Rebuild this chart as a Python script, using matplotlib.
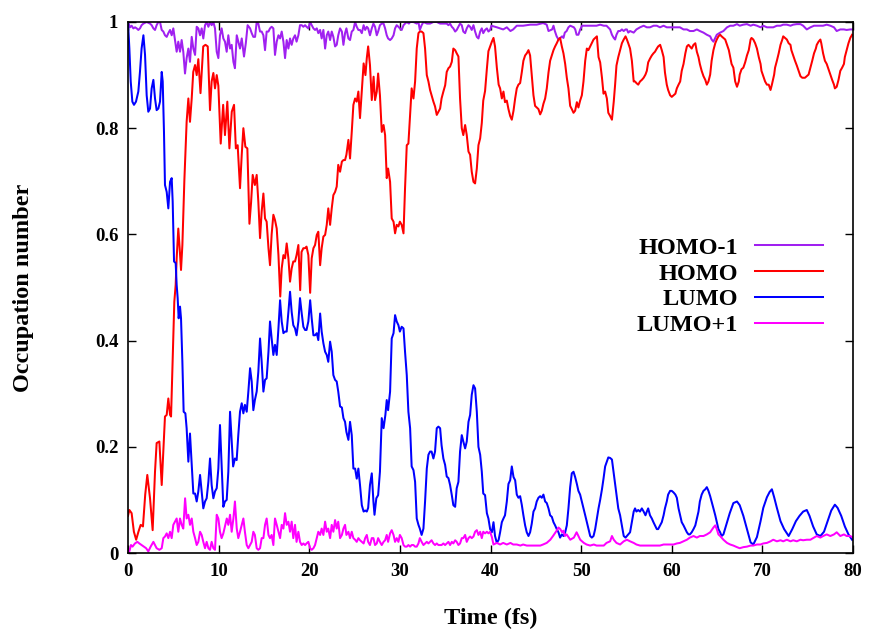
import matplotlib
matplotlib.use("Agg")
import matplotlib.pyplot as plt

# ---------------- data (time in fs, occupation number) ----------------
series_labels = ["HOMO-1", "HOMO", "LUMO", "LUMO+1"]
series_colors = ["#a020f0", "#ff0000", "#0000ff", "#ff00ff"]

homo1_pts = [(0,1.0),(0.22,0.99),(0.4,0.993),(0.59,0.988),(0.78,0.99),(0.96,0.988),(1.14,0.985),(1.32,0.988),(1.5,0.994),(1.7,0.997),(2.06,1.0),(2.43,0.997),(2.61,0.994),(2.8,0.988),(2.98,0.985),(3.16,0.994),(3.35,1.0),(3.53,1.0),(3.72,0.985),(3.9,0.982),(4.08,0.975),(4.27,0.972),(4.45,0.979),(4.64,0.985),(4.82,0.975),(5.0,0.988),(5.19,0.966),(5.37,0.944),(5.55,0.963),(5.74,0.944),(5.92,0.966),(6.1,0.944),(6.29,0.903),(6.47,0.932),(6.66,0.95),(6.84,0.925),(7.03,0.972),(7.21,0.95),(7.4,0.938),(7.58,0.991),(7.76,0.988),(7.95,0.975),(8.13,0.988),(8.31,0.969),(8.5,0.994),(8.68,1.0),(8.87,0.991),(9.05,1.0),(9.23,0.994),(9.42,1.0),(9.6,0.988),(9.79,0.944),(9.97,0.932),(10.15,0.975),(10.33,0.988),(10.52,0.969),(10.7,0.963),(10.89,0.944),(11.07,0.975),(11.26,0.95),(11.44,0.957),(11.63,0.925),(11.8,0.913),(12.0,0.975),(12.17,0.963),(12.36,0.95),(12.55,0.969),(12.8,0.935),(13.0,0.96),(13.2,0.994),(13.47,0.988),(13.65,0.979),(13.83,0.972),(14.02,0.972),(14.2,1.0),(14.38,0.997),(14.57,0.982),(14.75,0.982),(14.94,0.975),(15.12,0.947),(15.3,0.982),(15.5,0.982),(15.67,0.988),(15.85,0.991),(16.04,0.988),(16.22,0.938),(16.41,0.963),(16.6,0.975),(16.78,0.969),(16.96,0.982),(17.15,0.963),(17.33,0.932),(17.51,0.966),(17.7,0.95),(17.88,0.969),(18.06,0.957),(18.24,0.969),(18.43,0.975),(18.6,0.963),(18.8,0.975),(18.98,0.994),(19.17,0.994),(19.35,0.991),(19.54,0.994),(19.7,0.991),(19.9,0.988),(20.1,1.0),(20.27,0.994),(20.46,0.988),(20.64,0.985),(20.83,0.988),(21.0,0.979),(21.2,0.985),(21.37,0.969),(21.56,0.985),(21.75,0.95),(21.93,0.975),(22.1,0.982),(22.3,0.966),(22.48,0.982),(22.66,0.972),(22.85,0.954),(23.03,0.957),(23.2,0.975),(23.4,0.988),(23.6,0.982),(23.77,0.957),(23.95,0.979),(24.1,0.988),(24.32,0.969),(24.5,0.966),(24.69,0.982),(24.87,0.985),(25.06,1.0),(25.24,0.991),(25.42,0.985),(25.6,0.985),(25.8,0.979),(26.0,0.994),(26.17,0.985),(26.35,0.991),(26.5,0.988),(26.7,0.975),(26.9,0.988),(27.08,0.997),(27.26,0.991),(27.45,0.975),(27.6,0.982),(27.8,0.994),(28.0,0.997),(28.2,0.997),(28.37,0.988),(28.55,0.975),(28.7,0.969),(28.92,0.966),(29.1,0.969),(29.3,0.975),(29.47,0.988),(29.65,0.994),(29.84,0.991),(30.0,0.988),(30.2,0.985),(30.4,0.994),(30.57,0.997),(30.76,1.0),(31.0,0.997),(31.13,1.0),(31.5,1.0),(31.86,0.997),(32.05,1.0),(32.2,0.985),(32.4,0.994),(32.6,1.0),(33.0,0.997),(33.33,0.997),(33.7,1.0),(34.07,1.0),(34.44,0.997),(34.8,0.997),(35.17,0.997),(35.36,0.994),(35.54,0.997),(35.73,0.991),(35.9,0.988),(36.1,0.982),(36.27,0.985),(36.46,0.991),(36.64,0.997),(36.83,0.994),(37.0,0.982),(37.2,0.979),(37.38,0.988),(37.57,0.994),(37.75,0.991),(37.93,0.985),(38.12,0.994),(38.3,0.982),(38.49,0.972),(38.67,0.969),(38.86,0.982),(39.04,0.988),(39.2,0.979),(39.4,0.985),(39.6,0.988),(39.77,0.982),(39.96,0.985),(40.1,0.993),(40.7,0.99),(41.4,0.986),(41.8,0.99),(42.2,0.983),(42.5,0.986),(42.9,0.993),(43.6,0.993),(44.4,0.995),(45.1,0.995),(45.8,0.998),(46.2,0.995),(46.4,0.983),(46.8,0.986),(46.95,0.993),(47.1,0.983),(47.3,0.973),(47.5,0.967),(47.7,0.97),(47.9,0.973),(48.05,0.97),(48.2,0.98),(48.4,0.983),(48.6,0.99),(48.8,0.993),(49.2,0.99),(49.35,0.986),(49.5,0.976),(49.7,0.976),(49.9,0.986),(50.1,0.993),(50.3,0.993),(51.0,0.993),(51.7,0.993),(52.1,0.995),(52.5,0.993),(52.8,0.993),(53.2,0.986),(53.4,0.976),(53.6,0.97),(53.75,0.967),(53.9,0.976),(54.1,0.983),(54.3,0.983),(54.5,0.986),(54.7,0.983),(54.9,0.986),(55.05,0.986),(55.2,0.98),(55.4,0.983),(55.8,0.98),(56.1,0.986),(56.5,0.99),(56.9,0.993),(57.25,0.99),(57.6,0.99),(58.0,0.993),(58.35,0.993),(58.7,0.99),(59.1,0.993),(59.45,0.99),(59.8,0.99),(60.2,0.99),(60.56,0.99),(60.9,0.99),(61.3,0.986),(61.67,0.986),(62.0,0.983),(62.4,0.983),(62.77,0.986),(63.1,0.983),(63.5,0.98),(63.87,0.976),(64.24,0.973),(64.4,0.967),(64.6,0.963),(64.8,0.97),(64.97,0.976),(65.34,0.98),(65.7,0.983),(66.1,0.99),(66.45,0.993),(66.8,0.993),(67.2,0.996),(67.5,0.993),(67.9,0.995),(68.3,0.996),(68.7,0.993),(69.0,0.995),(69.4,0.993),(69.8,0.99),(70.1,0.993),(70.5,0.99),(70.9,0.99),(71.2,0.99),(71.6,0.993),(72.0,0.993),(72.3,0.995),(72.7,0.995),(73.1,0.993),(73.4,0.995),(73.8,0.996),(74.2,0.996),(74.5,0.993),(74.9,0.986),(75.3,0.99),(75.7,0.993),(76.0,0.993),(76.4,0.993),(76.7,0.993),(77.1,0.995),(77.5,0.993),(77.9,0.99),(78.2,0.983),(78.6,0.986),(79.0,0.986),(79.3,0.985),(79.7,0.986),(80.0,0.986)]

homo_pts = [(0,0.07),(0.15,0.081),(0.4,0.075),(0.65,0.04),(0.9,0.025),(1.15,0.04),(1.4,0.053),(1.65,0.05),(1.9,0.11),(2.13,0.147),(2.43,0.103),(2.72,0.043),(2.98,0.153),(3.16,0.207),(3.46,0.21),(3.72,0.128),(4.08,0.257),(4.27,0.26),(4.45,0.291),(4.64,0.26),(4.75,0.257),(4.93,0.367),(5.11,0.473),(5.26,0.505),(5.37,0.555),(5.55,0.611),(5.7,0.574),(5.85,0.533),(6.0,0.58),(6.22,0.702),(6.47,0.812),(6.66,0.856),(6.84,0.812),(7.03,0.856),(7.2,0.906),(7.4,0.919),(7.58,0.9),(7.76,0.93),(8.0,0.866),(8.3,0.954),(8.55,0.957),(8.8,0.954),(9.05,0.834),(9.23,0.888),(9.42,0.904),(9.6,0.875),(9.79,0.9),(9.97,0.88),(10.23,0.771),(10.5,0.844),(10.7,0.787),(10.96,0.85),(11.19,0.762),(11.45,0.831),(11.7,0.844),(11.9,0.762),(12.1,0.768),(12.36,0.687),(12.55,0.75),(12.73,0.8),(12.95,0.765),(13.17,0.762),(13.4,0.62),(13.58,0.66),(13.76,0.712),(14.0,0.693),(14.2,0.712),(14.38,0.662),(14.57,0.593),(14.75,0.643),(14.94,0.677),(15.12,0.63),(15.3,0.624),(15.5,0.574),(15.67,0.542),(15.85,0.6),(16.04,0.637),(16.22,0.627),(16.41,0.611),(16.6,0.561),(16.8,0.483),(16.96,0.536),(17.15,0.561),(17.33,0.555),(17.51,0.583),(17.7,0.555),(17.88,0.511),(18.06,0.536),(18.24,0.549),(18.43,0.549),(18.6,0.561),(18.8,0.58),(19.0,0.495),(19.15,0.567),(19.35,0.574),(19.54,0.574),(19.7,0.577),(19.9,0.561),(20.1,0.49),(20.27,0.555),(20.46,0.574),(20.64,0.58),(20.83,0.599),(21.0,0.605),(21.2,0.542),(21.37,0.574),(21.56,0.596),(21.75,0.599),(21.93,0.618),(22.1,0.649),(22.3,0.618),(22.48,0.649),(22.66,0.674),(22.85,0.68),(23.03,0.69),(23.2,0.731),(23.4,0.718),(23.6,0.737),(23.77,0.74),(23.95,0.74),(24.1,0.75),(24.32,0.778),(24.5,0.743),(24.69,0.793),(24.87,0.844),(25.06,0.856),(25.24,0.85),(25.42,0.869),(25.6,0.819),(25.8,0.869),(26.0,0.922),(26.2,0.9),(26.35,0.932),(26.5,0.954),(26.7,0.919),(26.9,0.853),(27.1,0.897),(27.26,0.853),(27.45,0.869),(27.6,0.903),(27.8,0.862),(28.0,0.793),(28.2,0.806),(28.37,0.787),(28.55,0.706),(28.7,0.724),(28.92,0.699),(29.1,0.63),(29.3,0.624),(29.47,0.602),(29.65,0.618),(29.84,0.615),(30.0,0.624),(30.2,0.618),(30.4,0.602),(30.57,0.687),(30.76,0.768),(30.94,0.771),(31.13,0.825),(31.3,0.875),(31.5,0.856),(31.68,0.888),(31.86,0.95),(32.05,0.979),(32.2,0.982),(32.4,0.982),(32.6,0.979),(32.78,0.95),(32.97,0.9),(33.15,0.888),(33.33,0.872),(33.5,0.862),(33.7,0.85),(33.88,0.841),(34.07,0.825),(34.25,0.831),(34.44,0.837),(34.6,0.856),(34.8,0.869),(35.0,0.881),(35.17,0.906),(35.36,0.913),(35.54,0.916),(35.73,0.925),(35.9,0.95),(36.1,0.947),(36.27,0.941),(36.46,0.935),(36.64,0.856),(36.83,0.8),(37.0,0.787),(37.2,0.806),(37.38,0.787),(37.57,0.756),(37.75,0.75),(37.93,0.718),(38.12,0.699),(38.3,0.696),(38.49,0.724),(38.67,0.768),(38.86,0.781),(39.04,0.81),(39.2,0.852),(39.4,0.87),(39.6,0.912),(39.77,0.945),(39.96,0.954),(40.15,0.963),(40.33,0.97),(40.5,0.954),(40.7,0.914),(40.9,0.882),(41.06,0.875),(41.25,0.856),(41.43,0.869),(41.6,0.849),(41.8,0.852),(41.98,0.836),(42.17,0.823),(42.35,0.816),(42.54,0.833),(42.72,0.856),(42.9,0.875),(43.08,0.882),(43.27,0.885),(43.45,0.905),(43.63,0.927),(43.82,0.937),(44.0,0.941),(44.19,0.947),(44.37,0.937),(44.55,0.901),(44.74,0.862),(44.92,0.842),(45.1,0.839),(45.29,0.836),(45.48,0.826),(45.66,0.833),(45.84,0.846),(46.03,0.856),(46.21,0.875),(46.4,0.905),(46.58,0.927),(46.77,0.937),(46.95,0.947),(47.13,0.954),(47.31,0.96),(47.5,0.967),(47.68,0.97),(47.87,0.954),(48.05,0.941),(48.24,0.921),(48.42,0.895),(48.6,0.875),(48.79,0.842),(48.97,0.836),(49.16,0.829),(49.34,0.833),(49.53,0.849),(49.7,0.839),(49.89,0.852),(50.08,0.862),(50.26,0.888),(50.45,0.927),(50.63,0.95),(50.8,0.947),(51.0,0.954),(51.18,0.96),(51.37,0.967),(51.55,0.97),(51.74,0.973),(51.92,0.934),(52.1,0.924),(52.3,0.895),(52.47,0.865),(52.65,0.869),(52.84,0.856),(53.0,0.829),(53.2,0.823),(53.4,0.816),(53.6,0.85),(53.75,0.882),(53.9,0.918),(54.1,0.934),(54.3,0.947),(54.5,0.96),(54.7,0.967),(54.9,0.973),(55.05,0.967),(55.2,0.96),(55.4,0.95),(55.6,0.927),(55.8,0.888),(55.95,0.888),(56.1,0.885),(56.3,0.882),(56.5,0.888),(56.7,0.891),(56.9,0.895),(57.1,0.901),(57.25,0.908),(57.4,0.924),(57.6,0.931),(57.8,0.937),(57.98,0.941),(58.15,0.944),(58.35,0.95),(58.5,0.954),(58.72,0.957),(58.9,0.947),(59.1,0.934),(59.25,0.905),(59.45,0.882),(59.6,0.872),(59.82,0.862),(60.0,0.859),(60.2,0.862),(60.4,0.865),(60.56,0.875),(60.75,0.882),(60.93,0.888),(61.1,0.908),(61.3,0.921),(61.5,0.941),(61.67,0.954),(61.85,0.957),(62.0,0.954),(62.2,0.95),(62.4,0.957),(62.6,0.96),(62.77,0.944),(62.95,0.934),(63.1,0.921),(63.3,0.908),(63.5,0.898),(63.7,0.891),(63.87,0.882),(64.05,0.888),(64.24,0.901),(64.4,0.927),(64.6,0.947),(64.8,0.96),(64.97,0.967),(65.15,0.973),(65.34,0.976),(65.5,0.973),(65.7,0.97),(65.9,0.967),(66.1,0.957),(66.3,0.947),(66.45,0.934),(66.6,0.921),(66.8,0.914),(67.0,0.888),(67.2,0.878),(67.4,0.888),(67.5,0.901),(67.7,0.911),(67.9,0.914),(68.1,0.924),(68.3,0.937),(68.5,0.947),(68.7,0.967),(68.8,0.97),(69.0,0.967),(69.2,0.96),(69.4,0.95),(69.6,0.934),(69.8,0.921),(69.9,0.908),(70.1,0.898),(70.3,0.888),(70.5,0.882),(70.7,0.882),(70.9,0.872),(71.05,0.882),(71.3,0.901),(71.4,0.914),(71.6,0.927),(71.8,0.941),(72.0,0.957),(72.2,0.967),(72.3,0.973),(72.5,0.97),(72.7,0.967),(72.9,0.96),(73.1,0.957),(73.2,0.947),(73.4,0.937),(73.6,0.927),(73.8,0.918),(74.0,0.908),(74.2,0.898),(74.4,0.895),(74.7,0.895),(74.9,0.898),(75.1,0.901),(75.3,0.914),(75.5,0.927),(75.7,0.941),(75.9,0.95),(76.0,0.957),(76.2,0.963),(76.4,0.967),(76.5,0.96),(76.7,0.941),(76.9,0.927),(77.1,0.921),(77.3,0.911),(77.5,0.901),(77.7,0.891),(77.9,0.882),(78.0,0.875),(78.2,0.878),(78.4,0.891),(78.6,0.908),(78.8,0.914),(79.0,0.921),(79.1,0.934),(79.3,0.947),(79.5,0.96),(79.7,0.97),(79.9,0.976)]

lumo_pts = [(0,1.0),(0.15,0.95),(0.3,0.888),(0.48,0.85),(0.66,0.844),(0.88,0.85),(1.14,0.869),(1.32,0.906),(1.5,0.95),(1.7,0.975),(1.88,0.938),(2.06,0.862),(2.24,0.831),(2.43,0.837),(2.61,0.875),(2.8,0.891),(2.98,0.856),(3.16,0.834),(3.35,0.837),(3.53,0.85),(3.72,0.906),(3.83,0.888),(3.97,0.793),(4.08,0.693),(4.27,0.68),(4.45,0.649),(4.64,0.699),(4.82,0.706),(4.93,0.662),(5.08,0.549),(5.26,0.546),(5.37,0.505),(5.48,0.48),(5.59,0.442),(5.74,0.464),(5.85,0.442),(6.0,0.36),(6.14,0.266),(6.33,0.263),(6.47,0.235),(6.66,0.172),(6.84,0.225),(7.03,0.166),(7.21,0.112),(7.4,0.112),(7.58,0.097),(7.76,0.116),(7.95,0.147),(8.13,0.116),(8.31,0.084),(8.5,0.097),(8.68,0.103),(8.87,0.134),(9.05,0.178),(9.23,0.128),(9.42,0.103),(9.6,0.116),(9.79,0.122),(9.97,0.159),(10.15,0.241),(10.33,0.166),(10.52,0.087),(10.7,0.097),(10.89,0.1),(11.07,0.153),(11.26,0.266),(11.44,0.21),(11.6,0.163),(11.8,0.178),(11.99,0.175),(12.17,0.222),(12.36,0.266),(12.55,0.282),(12.73,0.263),(12.9,0.279),(13.1,0.266),(13.28,0.304),(13.47,0.348),(13.65,0.323),(13.83,0.269),(14.0,0.288),(14.2,0.304),(14.38,0.341),(14.57,0.404),(14.75,0.36),(14.94,0.304),(15.12,0.326),(15.3,0.329),(15.5,0.379),(15.67,0.436),(15.85,0.404),(16.04,0.373),(16.22,0.392),(16.41,0.373),(16.6,0.423),(16.78,0.476),(16.96,0.436),(17.15,0.414),(17.33,0.417),(17.51,0.417),(17.7,0.454),(17.88,0.492),(18.06,0.454),(18.24,0.429),(18.43,0.423),(18.6,0.41),(18.8,0.436),(18.98,0.48),(19.17,0.451),(19.35,0.426),(19.54,0.42),(19.7,0.42),(19.9,0.436),(20.1,0.476),(20.27,0.442),(20.46,0.41),(20.64,0.41),(20.83,0.414),(21.0,0.401),(21.2,0.451),(21.37,0.417),(21.56,0.395),(21.75,0.379),(21.93,0.373),(22.1,0.36),(22.3,0.398),(22.48,0.379),(22.66,0.335),(22.85,0.326),(23.03,0.323),(23.2,0.304),(23.4,0.276),(23.6,0.274),(23.77,0.254),(23.95,0.247),(24.1,0.228),(24.32,0.213),(24.5,0.247),(24.69,0.222),(24.87,0.159),(25.06,0.159),(25.24,0.14),(25.42,0.159),(25.6,0.128),(25.8,0.09),(26.0,0.078),(26.17,0.08),(26.35,0.078),(26.5,0.085),(26.7,0.128),(26.9,0.15),(27.08,0.097),(27.2,0.072),(27.4,0.103),(27.6,0.109),(27.8,0.153),(28.0,0.254),(28.2,0.235),(28.4,0.26),(28.55,0.288),(28.7,0.269),(28.92,0.304),(29.1,0.404),(29.3,0.414),(29.47,0.448),(29.65,0.436),(29.84,0.429),(30.0,0.417),(30.2,0.426),(30.4,0.423),(30.57,0.379),(30.76,0.335),(30.94,0.266),(31.13,0.235),(31.3,0.163),(31.5,0.156),(31.68,0.134),(31.86,0.065),(32.05,0.053),(32.2,0.046),(32.4,0.034),(32.6,0.046),(32.78,0.097),(32.97,0.159),(33.15,0.185),(33.33,0.191),(33.5,0.191),(33.7,0.178),(33.88,0.191),(34.07,0.235),(34.25,0.238),(34.44,0.235),(34.6,0.203),(34.8,0.178),(34.99,0.166),(35.17,0.144),(35.36,0.141),(35.54,0.128),(35.73,0.109),(35.9,0.09),(36.1,0.087),(36.27,0.122),(36.46,0.134),(36.64,0.191),(36.83,0.222),(37.0,0.21),(37.2,0.197),(37.38,0.21),(37.57,0.247),(37.75,0.26),(37.93,0.298),(38.12,0.316),(38.3,0.31),(38.49,0.266),(38.67,0.2),(38.86,0.185),(39.04,0.153),(39.2,0.112),(39.4,0.109),(39.6,0.075),(39.77,0.065),(39.96,0.045),(40.15,0.039),(40.33,0.058),(40.5,0.032),(40.7,0.019),(40.9,0.025),(41.06,0.039),(41.25,0.058),(41.43,0.065),(41.6,0.071),(41.8,0.097),(41.98,0.13),(42.17,0.137),(42.35,0.163),(42.54,0.143),(42.72,0.137),(42.9,0.11),(43.08,0.104),(43.27,0.107),(43.45,0.091),(43.63,0.071),(43.82,0.052),(44.0,0.039),(44.19,0.032),(44.37,0.039),(44.55,0.055),(44.74,0.078),(44.92,0.084),(45.1,0.097),(45.29,0.104),(45.48,0.107),(45.66,0.104),(45.84,0.11),(46.03,0.097),(46.21,0.094),(46.4,0.084),(46.58,0.071),(46.77,0.068),(46.95,0.058),(47.13,0.052),(47.31,0.045),(47.5,0.039),(47.68,0.029),(47.87,0.035),(48.05,0.032),(48.24,0.039),(48.42,0.052),(48.6,0.084),(48.79,0.124),(48.97,0.15),(49.16,0.153),(49.34,0.143),(49.53,0.13),(49.7,0.117),(49.89,0.11),(50.08,0.097),(50.26,0.084),(50.45,0.071),(50.63,0.058),(50.8,0.045),(51.0,0.032),(51.18,0.029),(51.37,0.032),(51.55,0.045),(51.74,0.065),(51.92,0.084),(52.1,0.1),(52.3,0.12),(52.47,0.14),(52.65,0.163),(52.84,0.172),(53.0,0.18),(53.2,0.179),(53.4,0.176),(53.6,0.15),(53.75,0.13),(53.9,0.11),(54.1,0.084),(54.3,0.071),(54.5,0.052),(54.7,0.032),(54.9,0.029),(55.05,0.032),(55.2,0.035),(55.4,0.039),(55.6,0.058),(55.8,0.078),(55.95,0.084),(56.1,0.078),(56.3,0.081),(56.5,0.078),(56.7,0.084),(56.9,0.078),(57.1,0.071),(57.25,0.078),(57.4,0.084),(57.6,0.071),(57.8,0.065),(57.98,0.058),(58.15,0.052),(58.35,0.045),(58.5,0.045),(58.72,0.052),(58.9,0.058),(59.1,0.071),(59.25,0.084),(59.45,0.097),(59.6,0.11),(59.82,0.117),(60.0,0.117),(60.2,0.114),(60.4,0.11),(60.56,0.104),(60.75,0.084),(60.93,0.071),(61.1,0.058),(61.3,0.052),(61.5,0.045),(61.67,0.039),(61.85,0.035),(62.0,0.035),(62.2,0.039),(62.4,0.045),(62.6,0.052),(62.77,0.065),(62.95,0.078),(63.1,0.097),(63.3,0.11),(63.5,0.117),(63.7,0.12),(63.87,0.124),(64.05,0.117),(64.24,0.107),(64.4,0.097),(64.6,0.084),(64.8,0.071),(64.97,0.058),(65.15,0.045),(65.34,0.039),(65.5,0.032),(65.7,0.035),(66.1,0.058),(66.4,0.075),(66.8,0.094),(67.2,0.097),(67.5,0.09),(67.9,0.07),(68.3,0.045),(68.7,0.02),(69.0,0.016),(69.4,0.03),(69.8,0.06),(70.1,0.085),(70.5,0.105),(70.8,0.115),(71.05,0.12),(71.3,0.105),(71.6,0.085),(72.0,0.06),(72.4,0.045),(72.9,0.032),(73.3,0.045),(73.7,0.06),(74.1,0.07),(74.5,0.078),(74.9,0.081),(75.2,0.07),(75.6,0.05),(76.0,0.035),(76.4,0.032),(76.8,0.04),(77.2,0.06),(77.6,0.08),(78.0,0.091),(78.3,0.085),(78.7,0.07),(79.1,0.05),(79.5,0.035),(79.9,0.025)]

lumo1_pts = [(0,0.0),(0.15,0.003),(0.33,0.015),(0.5,0.012),(0.77,0.018),(1.03,0.021),(1.25,0.018),(1.5,0.015),(1.77,0.012),(2.0,0.009),(2.24,0.003),(2.5,0.012),(2.8,0.021),(2.98,0.015),(3.16,0.009),(3.46,0.006),(3.72,0.009),(3.9,0.028),(4.08,0.031),(4.27,0.037),(4.45,0.028),(4.64,0.04),(4.82,0.028),(5.0,0.053),(5.19,0.059),(5.37,0.065),(5.55,0.04),(5.74,0.065),(5.92,0.053),(6.1,0.046),(6.3,0.103),(6.47,0.065),(6.66,0.072),(6.84,0.053),(7.03,0.065),(7.21,0.04),(7.4,0.028),(7.58,0.015),(7.76,0.021),(7.95,0.04),(8.13,0.034),(8.31,0.021),(8.5,0.009),(8.68,0.021),(8.87,0.009),(9.05,0.006),(9.23,0.021),(9.42,0.009),(9.6,0.006),(9.79,0.072),(9.97,0.065),(10.15,0.04),(10.33,0.028),(10.52,0.037),(10.7,0.05),(10.9,0.065),(11.07,0.053),(11.26,0.072),(11.44,0.04),(11.63,0.065),(11.8,0.097),(12.0,0.046),(12.17,0.028),(12.36,0.04),(12.55,0.053),(12.73,0.065),(12.9,0.04),(13.1,0.015),(13.28,0.009),(13.47,0.015),(13.65,0.021),(13.83,0.04),(14.0,0.034),(14.2,0.009),(14.38,0.006),(14.57,0.009),(14.75,0.028),(14.94,0.028),(15.12,0.053),(15.3,0.065),(15.5,0.034),(15.67,0.028),(15.85,0.034),(16.04,0.015),(16.22,0.065),(16.41,0.053),(16.6,0.04),(16.78,0.028),(16.96,0.053),(17.15,0.046),(17.33,0.075),(17.51,0.053),(17.7,0.059),(17.88,0.04),(18.06,0.059),(18.24,0.028),(18.43,0.053),(18.6,0.021),(18.8,0.04),(18.98,0.021),(19.17,0.015),(19.35,0.018),(19.54,0.015),(19.7,0.018),(19.9,0.021),(20.1,0.009),(20.27,0.006),(20.46,0.009),(20.64,0.015),(20.83,0.028),(21.0,0.04),(21.2,0.034),(21.37,0.046),(21.56,0.034),(21.75,0.059),(21.93,0.04),(22.1,0.046),(22.3,0.028),(22.48,0.053),(22.66,0.04),(22.85,0.062),(23.03,0.046),(23.2,0.059),(23.4,0.028),(23.6,0.034),(23.77,0.046),(23.95,0.053),(24.1,0.034),(24.32,0.04),(24.5,0.028),(24.69,0.04),(24.87,0.028),(25.06,0.025),(25.24,0.021),(25.42,0.028),(25.6,0.024),(25.8,0.021),(26.0,0.018),(26.17,0.028),(26.35,0.034),(26.5,0.021),(26.7,0.015),(26.9,0.028),(27.08,0.028),(27.26,0.015),(27.45,0.018),(27.6,0.028),(27.8,0.021),(28.0,0.015),(28.2,0.021),(28.37,0.024),(28.55,0.034),(28.7,0.021),(28.92,0.037),(29.1,0.043),(29.3,0.034),(29.47,0.021),(29.65,0.028),(29.84,0.021),(30.0,0.034),(30.2,0.028),(30.4,0.015),(30.57,0.012),(30.76,0.012),(30.94,0.015),(31.13,0.012),(31.3,0.015),(31.5,0.015),(31.68,0.012),(31.86,0.012),(32.05,0.018),(32.2,0.028),(32.4,0.021),(32.6,0.015),(32.78,0.018),(32.97,0.021),(33.15,0.018),(33.33,0.021),(33.5,0.024),(33.7,0.018),(33.88,0.015),(34.07,0.018),(34.25,0.015),(34.44,0.015),(34.6,0.015),(34.8,0.018),(34.99,0.015),(35.17,0.018),(35.36,0.021),(35.54,0.015),(35.73,0.021),(35.9,0.018),(36.1,0.024),(36.27,0.021),(36.46,0.015),(36.64,0.018),(36.83,0.028),(37.0,0.028),(37.2,0.034),(37.38,0.021),(37.57,0.028),(37.75,0.031),(37.93,0.028),(38.12,0.031),(38.3,0.04),(38.49,0.043),(38.67,0.034),(38.86,0.04),(39.04,0.028),(39.2,0.04),(39.4,0.037),(39.6,0.04),(39.77,0.037),(39.96,0.04),(40.15,0.03),(40.33,0.016),(40.7,0.019),(41.06,0.016),(41.4,0.019),(41.8,0.016),(42.2,0.019),(42.5,0.016),(42.9,0.016),(43.3,0.014),(43.6,0.016),(44.0,0.014),(44.4,0.014),(44.7,0.014),(45.1,0.014),(45.5,0.014),(45.8,0.016),(46.2,0.019),(46.6,0.025),(46.9,0.032),(47.3,0.042),(47.5,0.048),(47.7,0.045),(47.9,0.039),(48.05,0.042),(48.2,0.032),(48.4,0.035),(48.8,0.025),(49.2,0.029),(49.5,0.039),(49.7,0.032),(49.9,0.025),(50.3,0.019),(50.6,0.016),(51.0,0.014),(51.4,0.016),(51.7,0.014),(52.1,0.014),(52.5,0.014),(52.8,0.019),(53.2,0.022),(53.4,0.032),(53.6,0.025),(53.9,0.019),(54.3,0.016),(54.7,0.022),(55.05,0.025),(55.4,0.022),(55.8,0.019),(56.1,0.016),(56.5,0.014),(56.9,0.014),(57.25,0.014),(57.6,0.014),(58.0,0.014),(58.35,0.014),(58.7,0.014),(59.1,0.016),(59.45,0.016),(59.8,0.016),(60.2,0.016),(60.56,0.018),(60.9,0.019),(61.3,0.022),(61.67,0.025),(62.0,0.029),(62.4,0.032),(62.77,0.029),(63.1,0.032),(63.5,0.032),(63.87,0.035),(64.24,0.039),(64.6,0.048),(64.8,0.052),(64.97,0.045),(65.15,0.035),(65.34,0.032),(65.7,0.025),(66.1,0.019),(66.45,0.016),(66.8,0.014),(67.2,0.011),(67.5,0.009),(67.9,0.011),(68.3,0.012),(68.7,0.014),(69.0,0.014),(69.4,0.016),(69.8,0.016),(70.1,0.018),(70.5,0.019),(70.9,0.022),(71.2,0.025),(71.6,0.022),(72.0,0.024),(72.3,0.022),(72.7,0.025),(73.1,0.022),(73.4,0.024),(73.8,0.022),(74.2,0.025),(74.5,0.024),(74.9,0.025),(75.3,0.025),(75.7,0.029),(76.0,0.032),(76.4,0.029),(76.7,0.032),(77.1,0.035),(77.5,0.032),(77.9,0.035),(78.2,0.039),(78.6,0.032),(79.0,0.035),(79.3,0.032),(79.7,0.032),(80.0,0.029)]

x_ticks = [0, 10, 20, 30, 40, 50, 60, 70, 80]
y_ticks = [0, 0.2, 0.4, 0.6, 0.8, 1.0]
y_tick_labels = ["0", "0.2", "0.4", "0.6", "0.8", "1"]
x_label = "Time (fs)"
y_label = "Occupation number"

# ---------------- figure ----------------
plt.rcParams["font.family"] = ["Liberation Serif", "DejaVu Serif"]
plt.rcParams["font.weight"] = "bold"

fig = plt.figure(figsize=(8.73, 6.33), dpi=100)
ax = fig.add_axes([128/873, 1 - 553/633, 725/873, 531/633])

all_pts = [homo1_pts, homo_pts, lumo_pts, lumo1_pts]
for pts, lab, col in zip(all_pts, series_labels, series_colors):
    tt = [p[0] for p in pts]
    vv = [p[1] for p in pts]
    ax.plot(tt, vv, color=col, lw=1.45, label=lab, solid_joinstyle="round")

ax.set_xlim(0, 80)
ax.set_ylim(0, 1)
ax.set_xticks(x_ticks)
ax.set_xticklabels([str(v) for v in x_ticks])
ax.set_yticks(y_ticks)
ax.set_yticklabels(y_tick_labels)
ax.tick_params(direction="in", length=6, width=1.0, top=True, right=True,
               labelsize=13.5, pad=7, colors="black")
for lbl in ax.get_xticklabels() + ax.get_yticklabels():
    lbl.set_fontweight("bold")
for s in ax.spines.values():
    s.set_linewidth(1.2)

ax.set_xlabel(x_label, fontsize=17.5, fontweight="bold")
ax.set_ylabel(y_label, fontsize=17.5, fontweight="bold")
ax.xaxis.label.set_va("center")
ax.yaxis.label.set_va("center")
ax.xaxis.set_label_coords(0.5, (553 - 618) / 531)
ax.yaxis.set_label_coords((23.5 - 128) / 725, 0.5)

leg = ax.legend(loc="center right", bbox_to_anchor=((823 - 128) / 725, (553 - 286.5) / 531),
                frameon=False, markerfirst=False, fontsize=17.5, handlelength=2.8,
                handletextpad=0.7, labelspacing=0.16, borderpad=0, borderaxespad=0)
for t in leg.get_texts():
    t.set_fontweight("bold")

fig.savefig("out.png", dpi=100)
